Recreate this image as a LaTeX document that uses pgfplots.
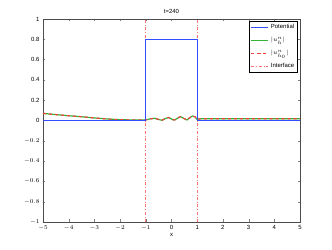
\documentclass[border=0pt]{standalone}
\usepackage{pgfplots}
\pgfplotsset{compat=1.18}
\usepackage{pgfplotstable}
\usepackage{fontspec}
\setmainfont{Liberation Sans}
\usetikzlibrary{calc}
\definecolor{mblue}{rgb}{0.2,0.3,1}
\definecolor{mgreen}{rgb}{0.2,0.7,0.2}
\definecolor{mred}{rgb}{0.95,0.25,0.25}
\definecolor{mpink}{rgb}{1,0.45,0.45}
\pgfplotstableread{
x y
-5 0.07
-4.5 0.058
-4 0.047
-3.5 0.037
-3 0.025
-2.5 0.015
-2 0.008
-1.5 0.005
-1 0.006
-0.85 0.015
-0.65 0.022
-0.5 0.01
-0.37 0.002
-0.25 0.018
-0.12 0.03
0.05 0.008
0.12 0.005
0.25 0.025
0.35 0.038
0.48 0.02
0.6 0.005
0.7 0.025
0.82 0.045
0.92 0.035
1 0.01
1.05 0.015
1.3 0.018
5 0.018
}\ucurve
\pgfplotstableread{
x y
-5 0
-1 0
-1 0.8
1 0.8
1 0
5 0
}\pot
\begin{document}
\begin{tikzpicture}
\begin{axis}[name=ax,
  scale only axis, width=257bp, height=203bp,
  xmin=-5, xmax=5, ymin=-1, ymax=1,
  xtick={-5,-4,...,5}, ytick={-1,-0.8,-0.6,-0.4,-0.2,0,0.2,0.4,0.6,0.8,1},
  yticklabels={$-1$,$-0.8$,$-0.6$,$-0.4$,$-0.2$,0,0.2,0.4,0.6,0.8,1},
  xticklabels={$-5$,$-4$,$-3$,$-2$,$-1$,0,1,2,3,4,5},
  tick align=inside, tick pos=both,
  major tick length=2.5bp,
  ticklabel style={font=\fontsize{6}{7}\selectfont},
  /pgf/number format/assume math mode=true,
  title={t=240}, title style={font=\fontsize{6}{7}\selectfont, yshift=-4bp},
  xlabel={x}, xlabel style={font=\fontsize{6}{7}\selectfont, yshift=4bp},
  axis line style={color=gray!60!black, line width=0.7pt},
  legend style={font=\fontsize{6}{6.5}\selectfont, draw=black, line width=0.5pt, inner sep=1pt, row sep=3pt, at={(0.99,0.99)}, anchor=north east, cells={anchor=west}},
  reverse legend=false,
]
\addplot[color=mpink, dash dot, line width=1.2pt, forget plot] coordinates {(1,-1) (1,1)};
\addplot[color=mgreen, solid, line width=1.2pt, forget plot] table[x=x,y=y] {\ucurve};
\addplot[color=mred, dashed, line width=1.2pt, forget plot] table[x=x,y=y] {\ucurve};
\addplot[color=mpink, dash dot, line width=1.2pt, forget plot] coordinates {(-1,-1) (-1,1)};
\addplot[color=mblue, solid, line width=1.2pt] table[x=x,y=y] {\pot};
\addlegendentry{Potential}
\addlegendimage{color=mgreen, solid, line width=1.2pt}
\addlegendentry{$|u^n_h|$}
\addlegendimage{color=mred, dashed, line width=1.2pt}
\addlegendentry{$|u^n_{h_0}|$}
\addlegendimage{color=mpink, dash dot, line width=1.2pt}
\addlegendentry{Interface}
\end{axis}
\path ($(ax.south west)+(-43bp,-28bp)$) rectangle ($(ax.north east)+(32bp,19bp)$);
\end{tikzpicture}
\end{document}
